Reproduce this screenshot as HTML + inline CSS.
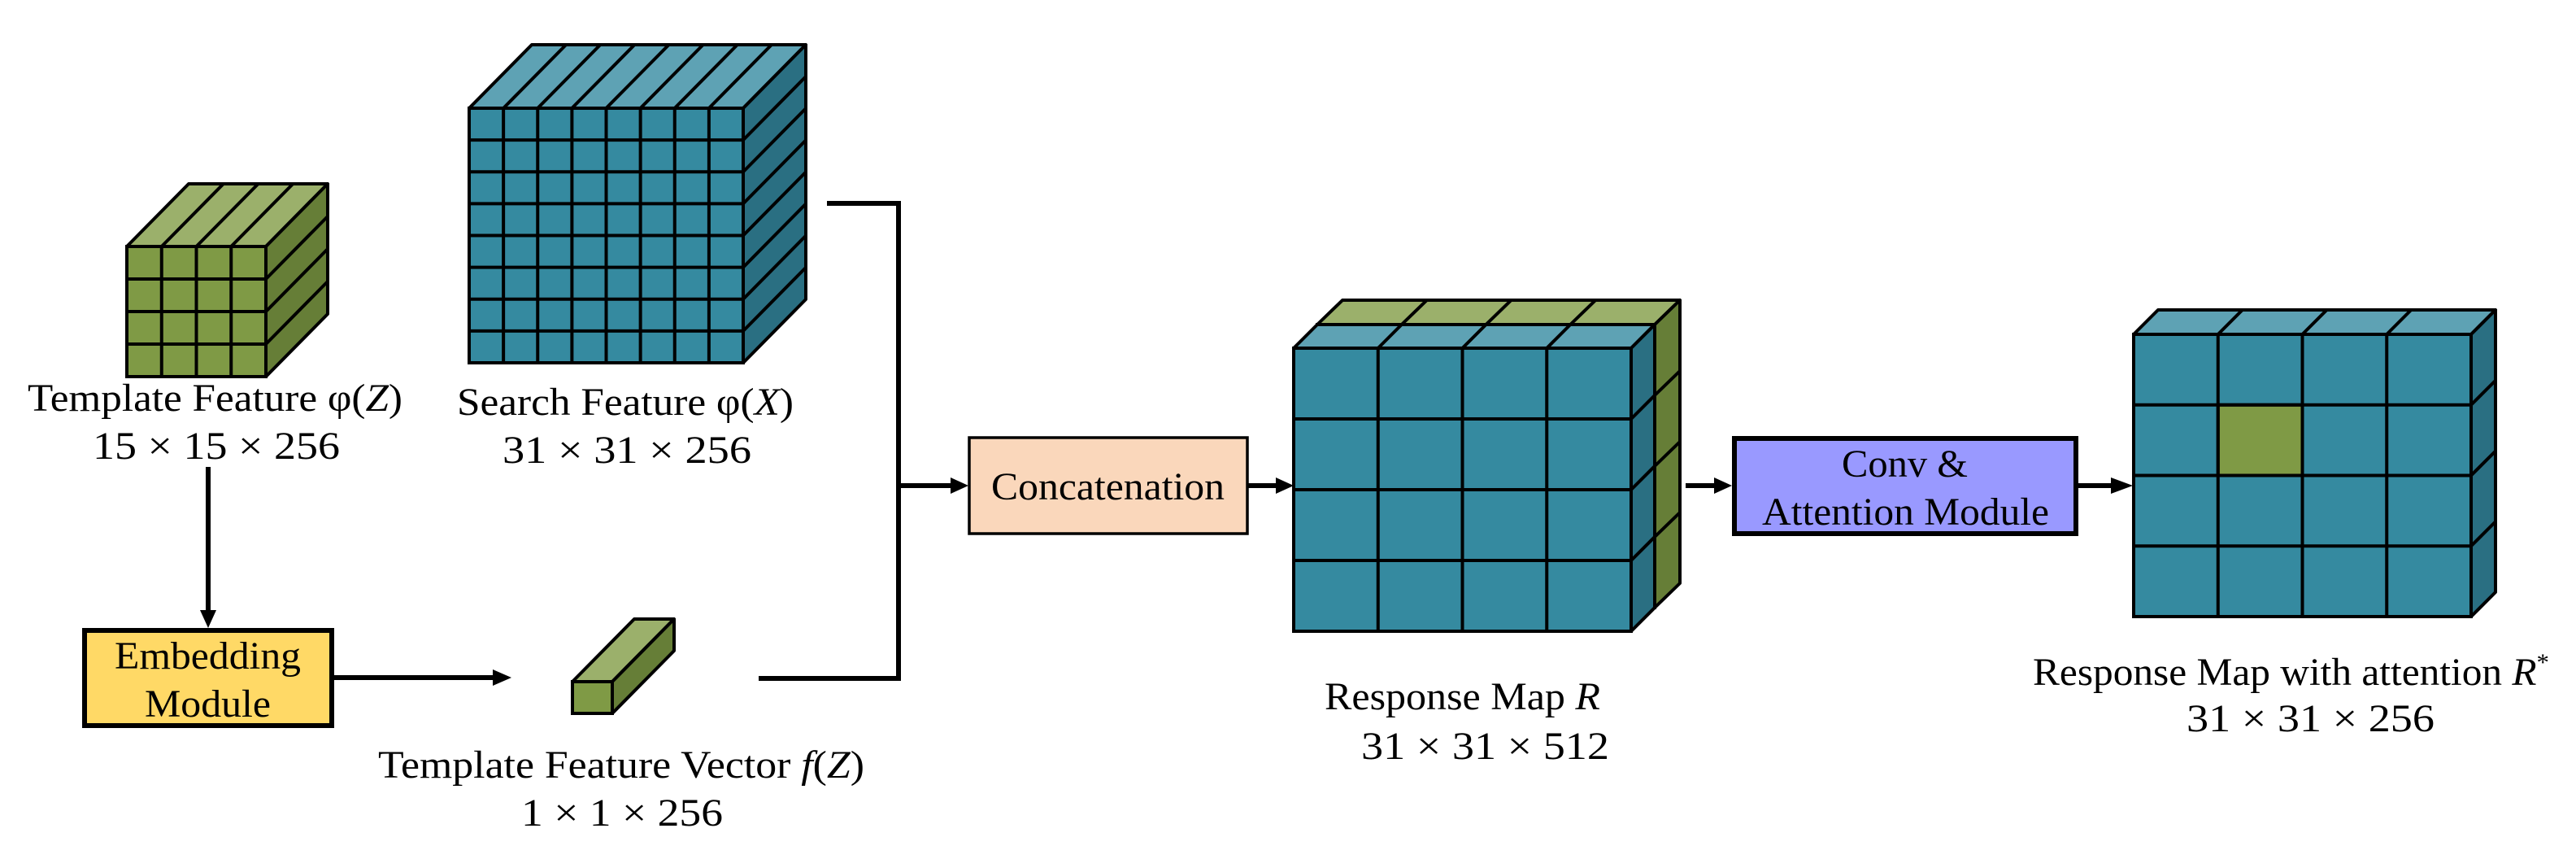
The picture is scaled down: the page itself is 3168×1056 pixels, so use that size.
<!DOCTYPE html>
<html><head><meta charset="utf-8"><style>
html,body{margin:0;padding:0;background:#fff;}
svg{display:block;}
text{font-family:"Liberation Serif",serif;font-size:48px;fill:#000;}
</style></head><body>
<svg id="s" width="3168" height="1056" viewBox="0 0 3168 1056" xmlns="http://www.w3.org/2000/svg">
<g id="shapes"></g>
<!-- connectors -->
<g stroke="#000" stroke-width="6" fill="none">
<line x1="256" y1="574" x2="256" y2="752"/>
<line x1="410" y1="833" x2="608" y2="833"/>
<polyline points="1017,250 1105,250 1105,834 933,834"/>
<line x1="1105" y1="597" x2="1171" y2="597"/>
<line x1="1535" y1="597" x2="1571" y2="597"/>
<line x1="2073" y1="597" x2="2110" y2="597"/>
<line x1="2555" y1="597" x2="2598" y2="597"/>
</g>
<g fill="#000">
<polygon points="246,750 266,750 256,772"/>
<polygon points="606,823 606,843 629,833"/>
<polygon points="1169,587 1169,607 1191,597"/>
<polygon points="1569,587 1569,607 1591,597"/>
<polygon points="2108,587 2108,607 2130,597"/>
<polygon points="2596,587 2596,607 2623,597"/>
</g>
<!-- boxes -->
<rect x="104" y="775" width="304" height="117" fill="#FFD966" stroke="#000" stroke-width="6"/>
<rect x="1192" y="538" width="342" height="118" fill="#FAD7BB" stroke="#000" stroke-width="3.5"/>
<rect x="2133" y="539" width="420" height="117" fill="#9999FF" stroke="#000" stroke-width="6"/>
<!-- labels -->
<text x="34" y="505" textLength="461" lengthAdjust="spacingAndGlyphs">Template Feature φ(<tspan font-style="italic">Z</tspan>)</text>
<text x="114" y="564" textLength="304" lengthAdjust="spacingAndGlyphs">15 × 15 × 256</text>
<text x="562" y="510" textLength="414" lengthAdjust="spacingAndGlyphs">Search Feature φ(<tspan font-style="italic">X</tspan>)</text>
<text x="618" y="569" textLength="306" lengthAdjust="spacingAndGlyphs">31 × 31 × 256</text>
<text x="141" y="822" textLength="229" lengthAdjust="spacingAndGlyphs">Embedding</text>
<text x="178" y="881" textLength="155" lengthAdjust="spacingAndGlyphs">Module</text>
<text x="465" y="956" textLength="598" lengthAdjust="spacingAndGlyphs">Template Feature Vector <tspan font-style="italic">f</tspan>(<tspan font-style="italic">Z</tspan>)</text>
<text x="641" y="1015" textLength="248" lengthAdjust="spacingAndGlyphs">1 × 1 × 256</text>
<text x="1219" y="614" textLength="287" lengthAdjust="spacingAndGlyphs">Concatenation</text>
<text x="1629" y="872" textLength="339" lengthAdjust="spacingAndGlyphs">Response Map <tspan font-style="italic">R</tspan></text>
<text x="1674" y="933" textLength="305" lengthAdjust="spacingAndGlyphs">31 × 31 × 512</text>
<text x="2265" y="586" textLength="155" lengthAdjust="spacingAndGlyphs">Conv &amp;</text>
<text x="2167" y="645" textLength="353" lengthAdjust="spacingAndGlyphs">Attention Module</text>
<text x="2500" y="842" textLength="635" lengthAdjust="spacingAndGlyphs">Response Map with attention <tspan font-style="italic">R</tspan><tspan font-size="30" dy="-18">*</tspan></text>
<text x="2689" y="899" textLength="305" lengthAdjust="spacingAndGlyphs">31 × 31 × 256</text>
</svg>
<script>
(function(){
var g=document.getElementById('shapes');var NS='http://www.w3.org/2000/svg';
function el(t,a){var e=document.createElementNS(NS,t);for(var k in a)e.setAttribute(k,a[k]);g.appendChild(e);return e;}
function P(pts){return pts.map(function(p){return p[0]+','+p[1]}).join(' ');}
var G={f:'#7F9A45',t:'#9BB06B',s:'#667E37'},B={f:'#358AA0',t:'#5EA2B4',s:'#2A6F82'};
function cube(x,y,w,h,cols,rows,dx,dy,c,sw,special){
 sw=sw||4;
 el('polygon',{points:P([[x,y],[x+w,y],[x+w+dx,y+dy],[x+dx,y+dy]]),fill:c.t,stroke:'#000','stroke-width':sw,'stroke-linejoin':'round'});
 el('polygon',{points:P([[x+w,y],[x+w+dx,y+dy],[x+w+dx,y+h+dy],[x+w,y+h]]),fill:c.s,stroke:'#000','stroke-width':sw,'stroke-linejoin':'round'});
 el('rect',{x:x,y:y,width:w,height:h,fill:c.f,stroke:'#000','stroke-width':sw});
 if(special){el('rect',{x:x+special[0]*w/cols,y:y+special[1]*h/rows,width:w/cols,height:h/rows,fill:'#7F9A45',stroke:'#000','stroke-width':sw});}
 for(var i=1;i<cols;i++){var xx=x+i*w/cols;el('line',{x1:xx,y1:y,x2:xx,y2:y+h,stroke:'#000','stroke-width':sw});el('line',{x1:xx,y1:y,x2:xx+dx,y2:y+dy,stroke:'#000','stroke-width':sw});}
 for(var j=1;j<rows;j++){var yy=y+j*h/rows;el('line',{x1:x,y1:yy,x2:x+w,y2:yy,stroke:'#000','stroke-width':sw});el('line',{x1:x+w,y1:yy,x2:x+w+dx,y2:yy+dy,stroke:'#000','stroke-width':sw});}
}
cube(156,303,171,160,4,4,76,-77,G,4);
cube(577,133,337,313,8,8,77,-78,B,4);
cube(704,838,49,39,1,1,76,-77,G,4);
cube(1620,399,415,348,4,4,31,-30,G,4);
cube(1591,428,415,348,4,4,29,-29,B,4);
cube(2624,411,415,347,4,4,30,-30,B,4,[1,1]);
})();
</script>
</body></html>
